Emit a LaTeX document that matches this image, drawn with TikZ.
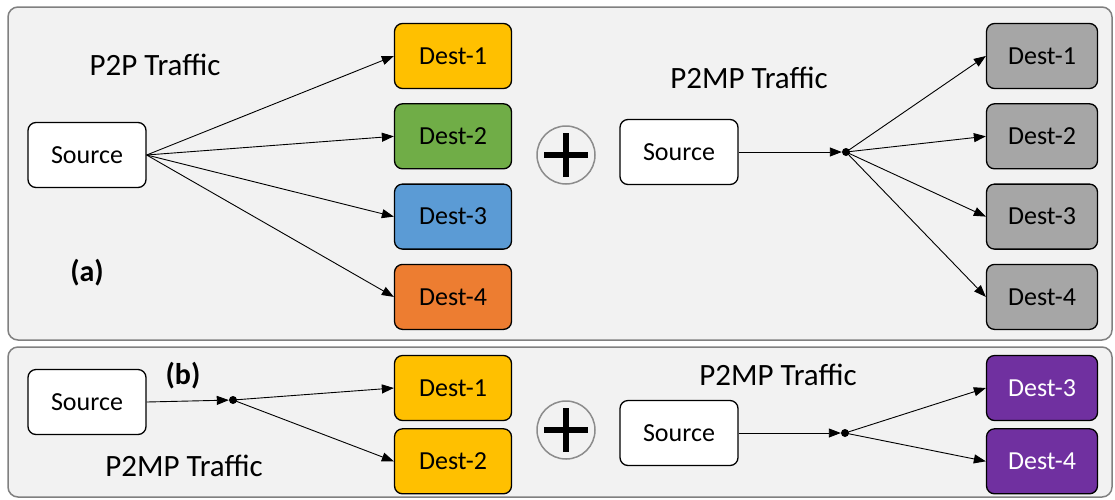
\documentclass[tikz,border=0pt]{standalone}
\usepackage{fontspec}
\setmainfont{Carlito}
\usetikzlibrary{positioning,arrows.meta}
\definecolor{panelgray}{HTML}{F2F2F2}
\definecolor{dgold}{HTML}{FFC000}
\definecolor{dgreen}{HTML}{70AD47}
\definecolor{dblue}{HTML}{5B9BD5}
\definecolor{dorange}{HTML}{ED7D31}
\definecolor{dgray}{HTML}{A6A6A6}
\definecolor{dpurple}{HTML}{7030A0}

\begin{document}
\begin{tikzpicture}[
    x=1pt, y=-1pt,
    node distance=14pt,
    panel/.style={draw=black!50, fill=panelgray, line width=1.5pt, rounded corners=10pt},
    box/.style={draw=black, rounded corners=8pt, line width=1.3pt, minimum width=117pt, minimum height=65pt, font=\fontsize{26}{30}\selectfont},
    src/.style={box, fill=white, minimum width=118pt},
    gray/.style={box, fill=dgray, minimum width=111pt},
    lbl/.style={font=\fontsize{31}{36}\selectfont},
    tag/.style={font=\fontsize{30}{34}\selectfont\bfseries},
    arr/.style={-{Triangle[length=12pt,width=9pt]}, line width=0.9pt},
    hub/.style={circle, fill=black, inner sep=0pt, minimum size=8pt},
    plus/.style={circle, draw=black!45, line width=1.5pt, fill=panelgray, minimum size=58pt}
  ]
    \useasboundingbox (0,0) rectangle (1115,499);
    % panels
    \draw[panel] (8,7) rectangle (1112,340);
    \draw[panel] (8,347) rectangle (1112,497);

    % (a) P2P part
    \node[src] (sa) at (87,155) {Source};
    \node[box, fill=dgold] (a1) at (453,56) {Dest-1};
    \node[box, fill=dgreen, below=of a1] (a2) {Dest-2};
    \node[box, fill=dblue, below=of a2] (a3) {Dest-3};
    \node[box, fill=dorange, below=of a3] (a4) {Dest-4};
    \node[lbl] (ta) at (155,65) {P2P Traffic};
    \node[tag] (la) at (87,273) {(a)};
    \foreach \d in {a1,a2,a3,a4}
      \draw[arr] (sa.east) -- (\d.west);

    % (a) P2MP part
    \node[plus] (pa) at (566,155) {};
    \draw[line width=6pt] ([xshift=-22pt]pa.center) -- ([xshift=22pt]pa.center);
    \draw[line width=6pt] ([yshift=-22pt]pa.center) -- ([yshift=22pt]pa.center);
    \node[src] (sm) at (679,152) {Source};
    \node[hub] (ha) at (846,152) {};
    \node[gray] (m1) at (1042,56) {Dest-1};
    \node[gray, below=of m1] (m2) {Dest-2};
    \node[gray, below=of m2] (m3) {Dest-3};
    \node[gray, below=of m3] (m4) {Dest-4};
    \node[lbl] (tm) at (749,78) {P2MP Traffic};
    \draw[arr] (sm.east) -- (ha);
    \foreach \d in {m1,m2,m3,m4}
      \draw[arr] (ha.center) -- (\d.west);

    % (b)
    \node[src] (sb) at (87,402) {Source};
    \node[hub] (hb) at (233,400) {};
    \node[box, fill=dgold] (b1) at (453,388) {Dest-1};
    \node[box, fill=dgold, below=7pt of b1] (b2) {Dest-2};
    \node[lbl] (tb) at (184,466) {P2MP Traffic};
    \node[tag] (lb) at (183,376) {(b)};
    \draw[arr] (sb.east) -- (hb);
    \foreach \d in {b1,b2}
      \draw[arr] (hb.center) -- (\d.west);

    \node[plus] (pb) at (566,430) {};
    \draw[line width=6pt] ([xshift=-22pt]pb.center) -- ([xshift=22pt]pb.center);
    \draw[line width=6pt] ([yshift=-22pt]pb.center) -- ([yshift=22pt]pb.center);
    \node[src] (sc) at (679,433) {Source};
    \node[hub] (hc) at (845,433) {};
    \node[box, fill=dpurple, text=white, minimum width=111pt] (c3) at (1042,388) {Dest-3};
    \node[box, fill=dpurple, text=white, minimum width=111pt, below=7pt of c3] (c4) {Dest-4};
    \node[lbl] (tc) at (778,375) {P2MP Traffic};
    \draw[arr] (sc.east) -- (hc);
    \foreach \d in {c3,c4}
      \draw[arr] (hc.center) -- (\d.west);
  \end{tikzpicture}
\end{document}
